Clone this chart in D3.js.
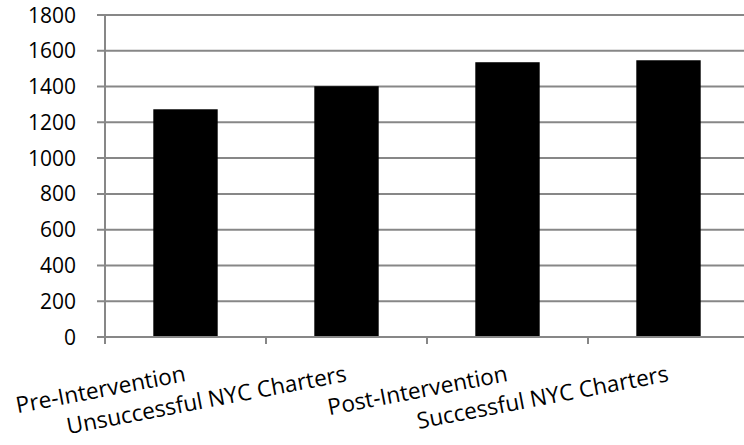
<!DOCTYPE html>
<html>
<head>
<meta charset="utf-8">
<script src="https://cdn.jsdelivr.net/npm/d3@7"></script>
<style>
  html, body { margin: 0; padding: 0; background: #fff; }
  svg { display: block; }
  text { font-family: "Open Sans", "Liberation Sans", sans-serif; fill: #000; }
</style>
</head>
<body>
<div id="chart"></div>
<script>
const categories = ["Pre-Intervention", "Unsuccessful NYC Charters", "Post-Intervention", "Successful NYC Charters"];
const values = [1273, 1402, 1536, 1547];
const yTicks = [0, 200, 400, 600, 800, 1000, 1200, 1400, 1600, 1800];

(function () {
const W = 744, H = 445;
const mLeft = 105, mRight = 749, mTop = 15, mBottom = 337;
const gridColor = "#878787";

const svg = d3.select("#chart").append("svg").attr("width", W).attr("height", H);

const x = d3.scaleBand().domain(categories).range([mLeft, mRight]).paddingInner(0.6).paddingOuter(0.3);
const y = d3.scaleLinear().domain([0, 1800]).range([mBottom, mTop]);

// gridlines
svg.append("g").selectAll("line").data(yTicks.filter(d => d > 0)).join("line")
  .attr("x1", mLeft - 8).attr("x2", mRight)
  .attr("y1", d => y(d)).attr("y2", d => y(d))
  .attr("stroke", gridColor).attr("stroke-width", 2);

// bars
svg.append("g").selectAll("rect").data(categories).join("rect")
  .attr("x", d => x(d)).attr("width", x.bandwidth())
  .attr("y", (d, i) => y(values[i]))
  .attr("height", (d, i) => y(0) - y(values[i]))
  .attr("fill", "#000");

// y axis line
svg.append("line").attr("x1", mLeft).attr("x2", mLeft).attr("y1", mTop).attr("y2", mBottom + 7)
  .attr("stroke", gridColor).attr("stroke-width", 2);
// x axis line (zero line)
svg.append("line").attr("x1", mLeft - 8).attr("x2", mRight).attr("y1", y(0)).attr("y2", y(0))
  .attr("stroke", gridColor).attr("stroke-width", 2);

// x category ticks at band boundaries
const step = x.step();
const bounds = categories.map((d, i) => mLeft + i * step).concat([mRight]);
svg.append("g").selectAll("line").data(bounds.slice(1)).join("line")
  .attr("x1", d => d).attr("x2", d => d)
  .attr("y1", mBottom).attr("y2", mBottom + 7)
  .attr("stroke", gridColor).attr("stroke-width", 2);

// y tick labels
svg.append("g").selectAll("text").data(yTicks).join("text")
  .attr("x", mLeft - 29).attr("y", d => y(d))
  .attr("dy", "0.36em")
  .attr("text-anchor", "end")
  .attr("font-size", 21)
  .text(d => d);

// x category labels, rotated
svg.append("g").selectAll("text").data(categories).join("text")
  .attr("text-anchor", "end")
  .attr("font-size", 22.6)
  .attr("transform", d => `translate(${x(d) + x.bandwidth() / 2 + 1},381) rotate(-10.8)`)
  .text(d => d);
})();
</script>
</body>
</html>
